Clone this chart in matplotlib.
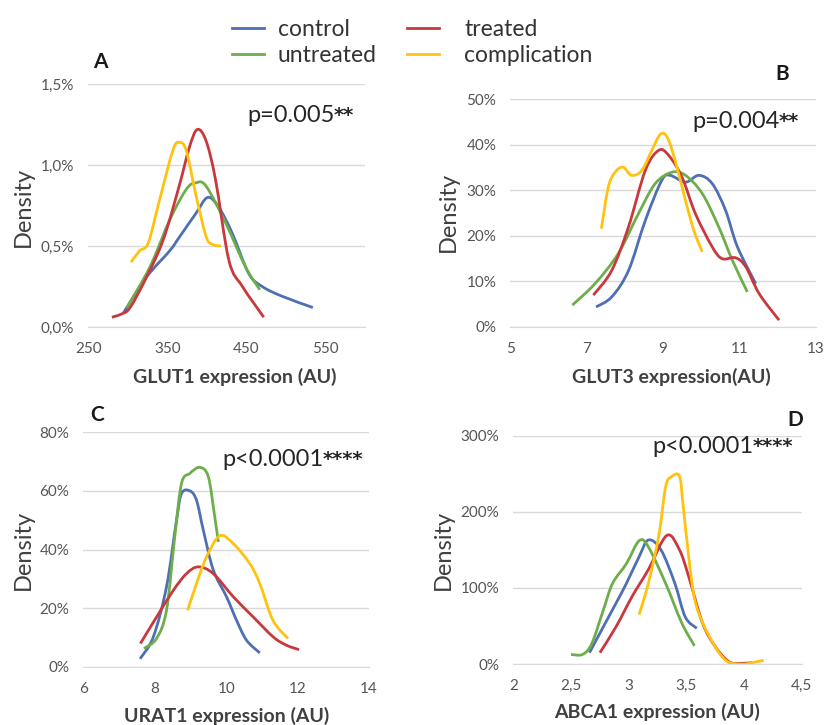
import numpy as np
import matplotlib.pyplot as plt
from matplotlib.path import Path
from matplotlib.patches import PathPatch
from matplotlib.lines import Line2D
from matplotlib.ticker import FuncFormatter

plt.rcParams['font.family'] = ['Lato', 'DejaVu Sans']

colors = {'control': '#4e6fb4', 'untreated': '#6eae4a',
          'treated': '#c9383c', 'complication': '#ffc20e'}
groups = ['control', 'untreated', 'treated', 'complication']

# GLUT1 (A), density in %
glut1_x = {
    'control': [295, 324, 353, 366, 386, 401, 415, 432, 453, 470, 495, 534],
    'treated': [280, 292, 303, 324, 345, 365, 378, 388, 399, 411, 428, 445, 472],
    'untreated': [299, 328, 353, 374, 386, 399, 424, 449, 467],
    'complication': [304, 315, 326, 340, 357, 365, 374, 386, 399, 407, 418],
}
glut1_y = {
    'control': [0.09, 0.31, 0.47, 0.56, 0.70, 0.80, 0.74, 0.58, 0.33, 0.25, 0.19, 0.12],
    'treated': [0.06, 0.08, 0.12, 0.31, 0.54, 0.87, 1.11, 1.22, 1.15, 0.91, 0.41, 0.25, 0.06],
    'untreated': [0.12, 0.37, 0.66, 0.85, 0.89, 0.87, 0.64, 0.37, 0.23],
    'complication': [0.40, 0.47, 0.52, 0.78, 1.09, 1.14, 1.09, 0.82, 0.56, 0.51, 0.50],
}

# GLUT3 (B)
glut3_x = {
    'control': [7.25, 7.66, 8.1, 8.54, 8.97, 9.19, 9.59, 9.94, 10.29, 10.64, 10.95, 11.43],
    'treated': [7.18, 7.66, 8.1, 8.54, 8.89, 9.15, 9.5, 9.85, 10.29, 10.55, 10.9, 11.17, 11.52, 12.04],
    'untreated': [6.63, 7.22, 7.83, 8.36, 8.8, 9.24, 9.59, 10.03, 10.46, 10.82, 11.21],
    'complication': [7.39, 7.57, 7.75, 7.96, 8.18, 8.45, 8.71, 8.93, 9.11, 9.32, 9.59, 9.81, 10.03],
}
glut3_y = {
    'control': [4.4, 6.6, 12.4, 23.4, 32.2, 33.3, 31.8, 33.3, 31.5, 25.6, 17.6, 9.5],
    'treated': [7.0, 12.4, 22.0, 34.4, 38.8, 37.7, 32.9, 24.9, 17.6, 15.0, 15.2, 13.2, 7.3, 1.5],
    'untreated': [4.8, 9.5, 16.1, 24.9, 31.5, 34.0, 33.3, 29.3, 22.0, 14.6, 7.7],
    'complication': [21.6, 30.7, 34.0, 35.1, 33.3, 34.4, 38.8, 42.3, 41.7, 36.6, 27.8, 21.2, 16.5],
}

# URAT1 (C)
urat1_x = {
    'control': [7.59, 7.96, 8.33, 8.61, 8.75, 8.98, 9.17, 9.36, 9.64, 10.01, 10.29, 10.57, 10.94],
    'treated': [7.6, 8.05, 8.52, 8.89, 9.22, 9.64, 10.2, 10.76, 11.32, 11.69, 12.04],
    'untreated': [7.7, 8.05, 8.33, 8.56, 8.75, 8.98, 9.26, 9.5, 9.68, 9.78],
    'complication': [8.92, 9.17, 9.45, 9.82, 10.2, 10.66, 10.94, 11.31, 11.73],
}
urat1_y = {
    'control': [2.8, 10.2, 27.3, 50.0, 59.1, 60.0, 56.8, 46.6, 33.0, 23.9, 15.9, 9.1, 4.8],
    'treated': [8.0, 17.0, 26.1, 31.8, 34.1, 31.8, 23.9, 17.0, 10.2, 7.4, 5.9],
    'untreated': [6.3, 9.7, 19.3, 44.3, 62.5, 65.9, 68.0, 64.8, 51.1, 42.6],
    'complication': [19.3, 28.4, 37.5, 44.7, 42.0, 35.2, 28.4, 15.9, 9.7],
}

# ABCA1 (D)
abca1_x = {
    'control': [2.66, 2.78, 2.89, 2.98, 3.09, 3.17, 3.28, 3.4, 3.49, 3.59],
    'treated': [2.75, 2.89, 3.03, 3.17, 3.33, 3.44, 3.52, 3.64, 3.75, 3.87, 3.98, 4.07],
    'untreated': [2.5, 2.6, 2.68, 2.78, 2.86, 2.98, 3.09, 3.17, 3.32, 3.46, 3.57],
    'complication': [3.09, 3.17, 3.26, 3.32, 3.37, 3.44, 3.47, 3.52, 3.58, 3.7, 3.84, 3.98, 4.07, 4.17],
}
abca1_y = {
    'control': [15, 49, 80, 106, 141, 163, 150, 106, 62, 47],
    'treated': [15, 49, 89, 124, 169, 150, 115, 54, 23, 3, 1, 2],
    'untreated': [12.7, 12.7, 27, 71, 106, 132, 162, 154, 106, 54, 24],
    'complication': [65, 106, 168, 233, 246, 247, 211, 141, 80, 36, 5, 0, 2, 5],
}

panels = [
    dict(xs=glut1_x, ys=glut1_y, rect=[0.107, 0.549, 0.336, 0.335],
         xlim=(250, 600), xticks=[250, 350, 450, 550], ylim=(0, 1.5), yticks=[0, 0.5, 1.0, 1.5],
         yfmt=lambda v, p: f'{v:.1f}%'.replace('.', ','), xfmt=lambda v, p: f'{v:g}'),
    dict(xs=glut3_x, ys=glut3_y, rect=[0.619, 0.549, 0.371, 0.314],
         xlim=(5, 13), xticks=[5, 7, 9, 11, 13], ylim=(0, 50), yticks=[0, 10, 20, 30, 40, 50],
         yfmt=lambda v, p: f'{v:.0f}%', xfmt=lambda v, p: f'{v:g}'),
    dict(xs=urat1_x, ys=urat1_y, rect=[0.101, 0.080, 0.347, 0.324],
         xlim=(6, 14), xticks=[6, 8, 10, 12, 14], ylim=(0, 80), yticks=[0, 20, 40, 60, 80],
         yfmt=lambda v, p: f'{v:.0f}%', xfmt=lambda v, p: f'{v:g}'),
    dict(xs=abca1_x, ys=abca1_y, rect=[0.623, 0.084, 0.350, 0.315],
         xlim=(2, 4.5), xticks=[2, 2.5, 3, 3.5, 4, 4.5], ylim=(0, 300), yticks=[0, 100, 200, 300],
         yfmt=lambda v, p: f'{v:.0f}%', xfmt=lambda v, p: f'{v:g}'.replace('.', ',')),
]


def smooth_line(ax, x, y, color):
    # Excel-like smoothed line: cubic bezier through the data points
    p = np.column_stack([x, y]).astype(float)
    n = len(p)
    verts = [p[0]]
    codes = [Path.MOVETO]
    for i in range(n - 1):
        p0 = p[i - 1] if i > 0 else p[i]
        p3 = p[i + 2] if i + 2 < n else p[i + 1]
        c1 = p[i] + (p[i + 1] - p0) / 6
        c2 = p[i + 1] - (p3 - p[i]) / 6
        verts += [c1, c2, p[i + 1]]
        codes += [Path.CURVE4] * 3
    ax.add_patch(PathPatch(Path(verts, codes), facecolor='none', edgecolor=color,
                           lw=2.0, joinstyle='round', capstyle='butt'))


fig = plt.figure(figsize=(8.24, 7.25), dpi=100)

for pn in panels:
    ax = fig.add_axes(pn['rect'])
    for g in ['control', 'untreated', 'treated', 'complication']:
        smooth_line(ax, pn['xs'][g], pn['ys'][g], colors[g])
    ax.set_xlim(pn['xlim'])
    ax.set_ylim(pn['ylim'])
    ax.set_xticks(pn['xticks'])
    ax.set_yticks(pn['yticks'])
    ax.xaxis.set_major_formatter(FuncFormatter(pn['xfmt']))
    ax.yaxis.set_major_formatter(FuncFormatter(pn['yfmt']))
    ax.grid(axis='y', color='#d9d9d9', lw=1.0)
    ax.set_axisbelow(True)
    for s in ['top', 'right', 'left']:
        ax.spines[s].set_visible(False)
    ax.spines['bottom'].set_color('#d9d9d9')
    ax.tick_params(length=0, labelsize=11, labelcolor='#555555')
    ax.tick_params(axis='x', pad=11)
    ax.tick_params(axis='y', pad=10)

# axis titles
ylab = dict(rotation=90, ha='center', va='center', fontsize=17, color='#404040')
fig.text(23 / 824, 1 - 207 / 725, 'Density', **ylab)
fig.text(448 / 824, 1 - 212 / 725, 'Density', **ylab)
fig.text(23 / 824, 1 - 550 / 725, 'Density', **ylab)
fig.text(443 / 824, 1 - 550 / 725, 'Density', **ylab)

xlab = dict(ha='center', va='center', fontsize=14, fontweight='bold', color='#404040')
fig.text(235 / 824, 1 - 377 / 725, 'GLUT1 expression (AU)', **xlab)
fig.text(671 / 824, 1 - 377 / 725, 'GLUT3 expression(AU)', **xlab)
fig.text(227 / 824, 1 - 716 / 725, 'URAT1 expression (AU)', **xlab)
fig.text(657 / 824, 1 - 712 / 725, 'ABCA1 expression (AU)', **xlab)

# p-values
pvals = [(247, 116, 'p=0.005', '**'), (692, 121, 'p=0.004', '**'),
         (222, 459, 'p<0.0001', '****'), (652, 446, 'p<0.0001', '****')]
for x, y, t, stars in pvals:
    tx = fig.text(x / 824, 1 - y / 725, t, ha='left', va='center', fontsize=17, color='#262626')
    fig.add_artist(plt.Annotation(stars, xy=(1, 0.5), xycoords=tx, xytext=(-0.5, 0),
                                  textcoords='offset points', ha='left', va='center',
                                  fontsize=14, fontweight='bold', color='#262626',
                                  family='DejaVu Sans'))

# panel letters
for x, y, l in [(100, 62, 'A'), (782, 74, 'B'), (97, 415, 'C'), (795, 420, 'D')]:
    fig.text(x / 824, 1 - y / 725, l, ha='center', va='center', fontsize=15,
             fontweight='bold', color='#1a1a1a')

# legend (two columns with different text gaps)
proxies = {g: Line2D([], [], color=colors[g], lw=2.0) for g in groups}
leg_kw = dict(frameon=False, loc='upper left', fontsize=16.5, handlelength=1.4,
              labelspacing=0.2, labelcolor='#333333', borderaxespad=0, borderpad=0)
fig.legend([proxies['control'], proxies['untreated']], ['control', 'untreated'],
           bbox_to_anchor=(232 / 824, 1 - 19 / 725), handletextpad=0.6, **leg_kw)
fig.legend([proxies['treated'], proxies['complication']], ['treated', 'complication'],
           bbox_to_anchor=(407 / 824, 1 - 19 / 725), handletextpad=1.1, **leg_kw)

fig.savefig('out.png', dpi=100)
